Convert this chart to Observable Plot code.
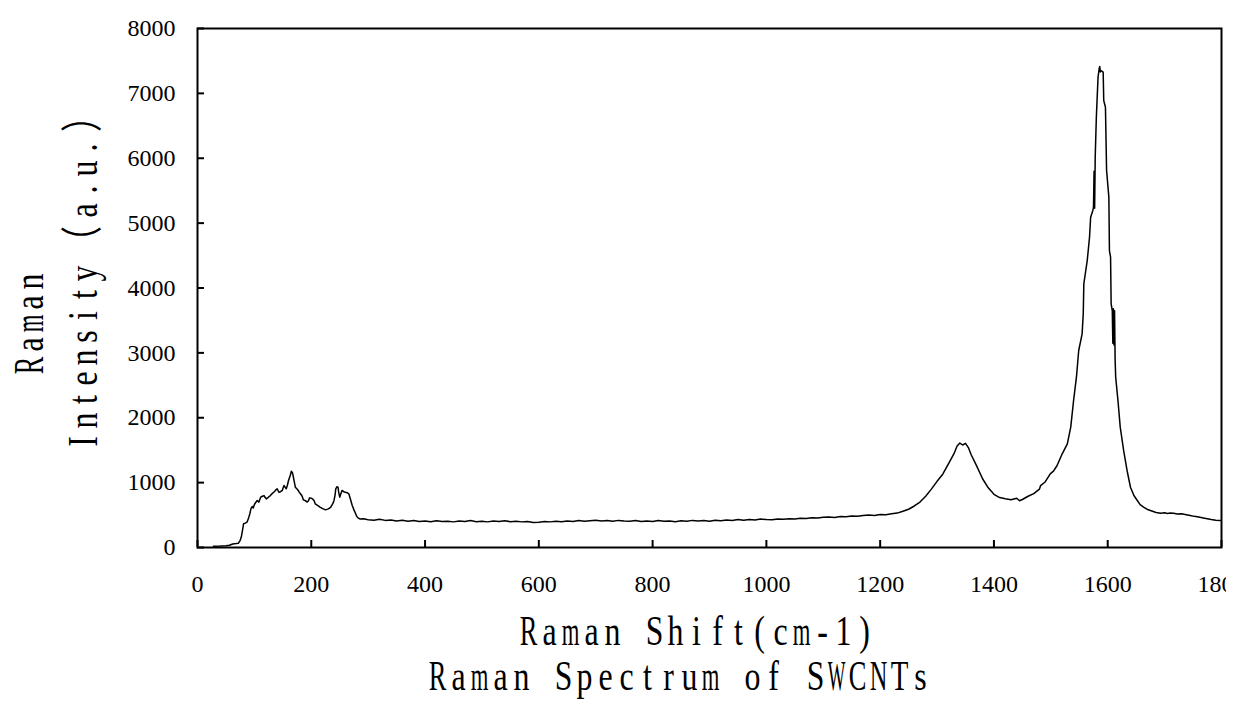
<!DOCTYPE html>
<html><head><meta charset="utf-8">
<script src="https://cdn.jsdelivr.net/npm/d3@7"></script>
<script src="https://cdn.jsdelivr.net/npm/@observablehq/plot@0.6"></script>
<style>body{margin:0;background:#fff;color:#000}</style>
</head><body><div id="chart"></div>
<script>
const shift = [28,40,50,56,62,68,72,75,77,79,81,84,87,90,92,94,96,98,100,102,105,108,111,114,117,119,121,124,128,131,134,137,140,143,146,149,152,154,156,158,160,163,165,167,168,170,172,175,177,179,181,184,186,190,193,195,197,200,202,205,207,211,216,220,225,230,234,238,240,242,243,245,247,248,250,252,254,257,260,263,266,269,272,275,278,280,282,286,292,298,
300,310,320,330,340,350,360,370,380,390,400,410,420,430,440,450,460,470,480,490,500,510,520,530,540,550,560,570,580,590,600,610,620,630,640,650,660,670,680,690,700,710,720,730,740,750,760,770,780,790,800,810,820,830,840,850,860,870,880,890,900,910,920,930,940,950,960,970,980,990,1000,1010,1020,1030,1040,1050,1060,1070,1080,1090,1100,1110,1120,1130,1140,1150,1160,1170,1180,1190,1200,1210,1220,1230,1240,1250,
1260,1270,1280,1290,1300,1310,1320,1330,1335,1340,1345,1350,1355,1360,1370,1380,1390,1400,1410,1420,1430,1440,1445,1450,1460,1470,1480,1482,1490,1499,1505,1511,1520,1529,1535,1540,1545,1549,1555,1557,1558,1564,1568,1570,1574,1575,1576,1577,1578,1580,1583,1585,1586,1587,1588,1590,1592,1593,1596,1598,1602,1603,1605,1606,1608,1609,1610,1611,1612,1613,1614,1618,1622,1628,1634,1640,1646,1652,1657,1663,1669,1675,1680,1685,1693,1700,1705,1710,1716,1722,1730,1738,1745,1752,1760,1768,1775,1782,1790,1798];
const intensity = [20,22,28,35,55,60,66,110,160,260,365,375,390,460,520,600,632,610,663,690,725,700,775,790,800,770,750,770,800,830,852,880,905,852,860,880,955,930,905,960,1033,1110,1176,1150,1110,1020,930,900,880,850,828,790,735,720,700,720,765,760,750,720,673,650,620,600,580,595,620,680,725,820,905,935,930,860,775,830,880,860,852,845,828,740,647,580,520,480,457,440,442,430,
428,420,435,418,425,410,420,405,415,402,410,398,412,400,405,395,410,400,415,398,405,395,408,400,412,398,405,395,400,385,390,400,395,405,398,410,402,415,405,412,420,408,415,405,418,410,405,415,400,410,402,415,405,410,398,412,405,418,408,415,405,420,412,425,418,430,420,432,425,438,430,428,440,435,445,440,452,448,460,455,465,470,462,478,475,485,480,492,500,495,510,505,520,530,560,590,
640,700,790,900,1020,1130,1290,1450,1560,1610,1580,1605,1540,1430,1250,1060,920,820,770,750,735,760,720,740,790,830,900,955,1010,1136,1180,1264,1444,1598,1855,2266,2625,3037,3294,3602,4064,4424,4783,5092,5200,5250,5800,5230,6016,6633,7250,7380,7414,7330,7352,7340,7327,6890,6787,5811,5400,4578,4475,3756,3653,3150,3680,3120,3650,2900,2625,2266,1855,1495,1187,929,801,724,660,621,590,570,555,540,529,535,525,530,529,515,520,505,493,480,470,455,442,430,420,416];
const xTicks = [0,200,400,600,800,1000,1200,1400,1600,1800];
const yTicks = [0,1000,2000,3000,4000,5000,6000,7000,8000];
const xTitle = "Raman Shift(cm-1)";
const yTitle = ["Raman", "Intensity（a.u.）"];
const captionText = "Raman Spectrum of SWCNTs";

const data = shift.map((x, i) => ({x, y: intensity[i]}));

const svg = Plot.plot({
  width: 1226, height: 709,
  marginLeft: 197, marginRight: 5, marginTop: 28, marginBottom: 162,
  style: {background: "#fff", overflow: "hidden", color: "#000"},
  x: {domain: [0, 1800]},
  y: {domain: [0, 8000]},
  marks: [
    Plot.line(data, {x: "x", y: "y", stroke: "#000", strokeWidth: 1.5}),
    Plot.frame({stroke: "#000", strokeWidth: 2}),
    Plot.axisX({ticks: xTicks, tickSize: -7, tickPadding: 34, tickFormat: d => String(d), fontFamily: "Liberation Serif", fontSize: 24, strokeWidth: 2, label: null}),
    Plot.axisY({ticks: yTicks, tickSize: -7, tickPadding: 29, tickFormat: d => String(d), fontFamily: "Liberation Serif", fontSize: 24, strokeWidth: 2, label: null})
  ]
});
document.getElementById("chart").appendChild(svg);

const s = d3.select(svg);
const titleFont = "'Liberation Serif', 'Noto Sans CJK SC', serif";
// monospaced-cell title (half-width chars take 1 cell, full-width chars 2 cells)
function addTitle(text, tx, ty, rot, pitch) {
  const sx = 0.76, fs = 42;
  const g = s.append("g").attr("transform", `translate(${tx},${ty}) rotate(${rot}) scale(${sx},1)`);
  const t = g.append("text")
    .attr("font-family", titleFont)
    .attr("font-size", fs)
    .attr("fill", "#000")
    .attr("text-anchor", "middle");
  let cell = 0;
  for (const ch of text) {
    const w = ch.charCodeAt(0) > 0x2000 ? 2 : 1;
    const sp = t.append("tspan").attr("x", (cell + w / 2) * pitch / sx).attr("y", 0).text(ch);
    const maxLen = w * pitch * 0.84 / sx;
    const len = sp.node().getComputedTextLength();
    if (ch !== " " && len > maxLen) sp.attr("textLength", maxLen).attr("lengthAdjust", "spacingAndGlyphs");
    cell += w;
  }
}
addTitle(xTitle, 518, 645, 0, 21);
addTitle(yTitle[0], 43, 376, -90, 21);
addTitle(yTitle[1], 97, 452, -90, 21);
addTitle(captionText, 427, 690, 0, 21);
</script>
</body></html>
